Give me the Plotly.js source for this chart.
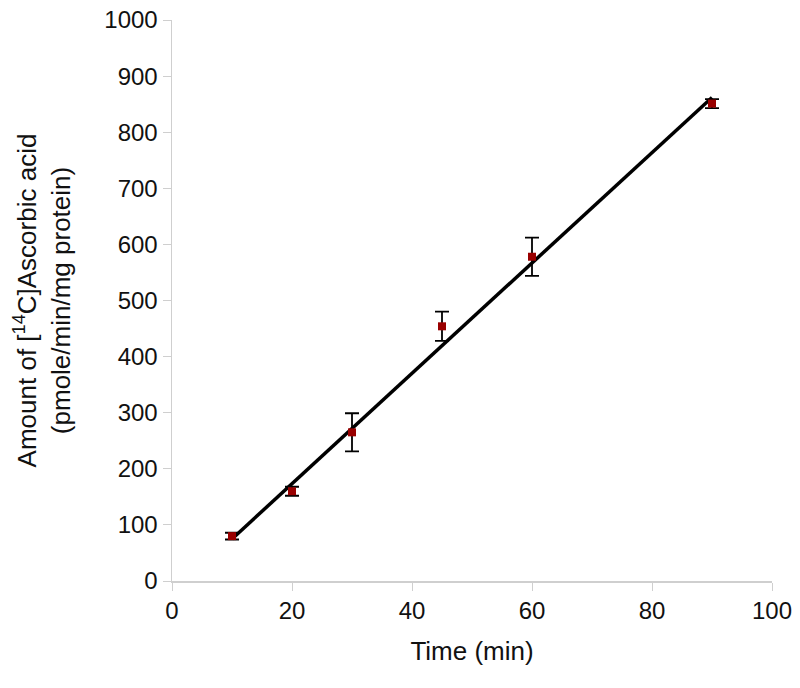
<!DOCTYPE html>
<html>
<head>
<meta charset="utf-8">
<script src="https://cdn.plot.ly/plotly-3.0.1.min.js"></script>
<style>
  body { margin: 0; background: #fff; }
  #chart { width: 800px; height: 688px; }
</style>
</head>
<body>
<div id="chart"></div>
<script>
// values
var time_min = [10, 20, 30, 45, 60, 90];
var amount = [80, 160, 265, 454, 578, 851];
var amount_err = [6, 8, 34, 26, 34, 8];
// fitted line end points (as drawn)
var fit_x = [10, 90];
var fit_y = [75, 862];

var tick_font = {family: 'Liberation Sans, Arial, sans-serif', size: 24, color: '#111111'};
var title_font = {family: 'Liberation Sans, Arial, sans-serif', size: 26, color: '#111111'};

var fit_trace = {
    x: fit_x,
    y: fit_y,
    type: 'scatter',
    mode: 'lines',
    line: {color: '#000000', width: 3.5},
    hoverinfo: 'skip'
};
var data_trace = {
    x: time_min,
    y: amount,
    type: 'scatter',
    mode: 'markers',
    marker: {symbol: 'square', size: 8, color: '#990000'},
    error_y: {type: 'data', array: amount_err, visible: true, color: '#000000', thickness: 1.8, width: 7}
};

var layout = {
    width: 800,
    height: 688,
    margin: {l: 172, r: 28, t: 20, b: 107},
    paper_bgcolor: '#ffffff',
    plot_bgcolor: '#ffffff',
    showlegend: false,
    font: tick_font,
    xaxis: {
        range: [0, 100],
        tickvals: [0, 20, 40, 60, 80, 100],
        showgrid: false,
        zeroline: false,
        showline: true,
        linecolor: '#cfcfcf',
        linewidth: 1.5,
        ticks: 'outside',
        ticklen: 8,
        tickcolor: '#cfcfcf',
        tickfont: tick_font,
        title: {text: 'Time (min)', font: title_font, standoff: 18}
    },
    yaxis: {
        range: [0, 1000],
        tickvals: [0, 100, 200, 300, 400, 500, 600, 700, 800, 900, 1000],
        showgrid: false,
        zeroline: false,
        showline: true,
        linecolor: '#cfcfcf',
        linewidth: 1.5,
        ticks: 'outside',
        ticklen: 8,
        tickcolor: '#cfcfcf',
        tickfont: tick_font,
        title: {
            text: 'Amount of [<sup>14</sup>C]Ascorbic acid<br>(pmole/min/mg protein)',
            font: title_font,
            standoff: 26
        }
    }
};

Plotly.newPlot('chart', [fit_trace, data_trace], layout, {displayModeBar: false, staticPlot: true});
</script>
</body>
</html>
